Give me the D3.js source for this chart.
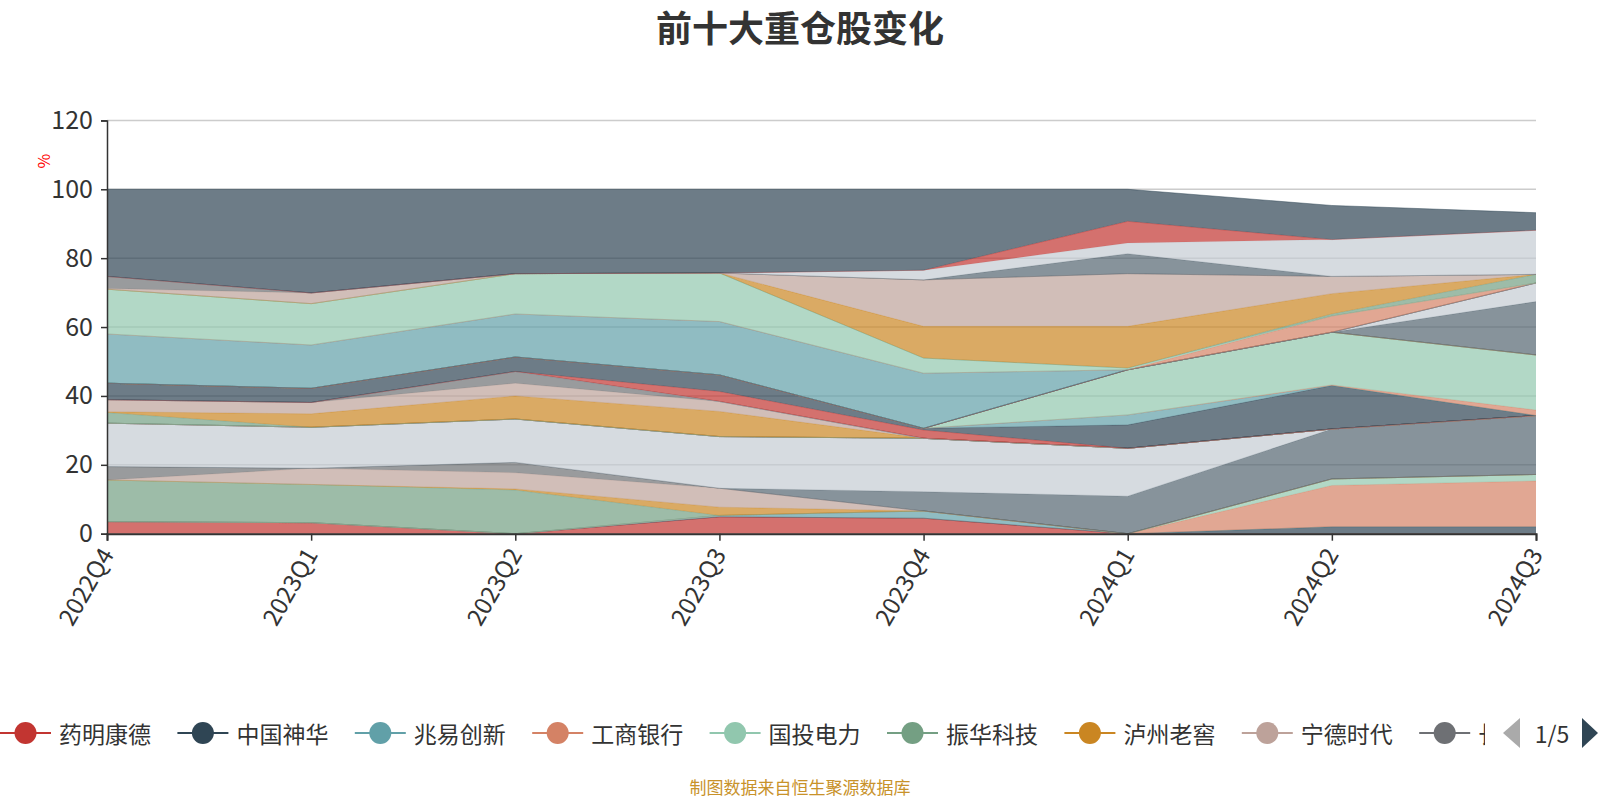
<!DOCTYPE html>
<html><head><meta charset="utf-8">
<script src="https://cdn.jsdelivr.net/npm/d3@7"></script>
<style>body{margin:0;background:#fff;}svg{display:block;font-family:"Noto Sans CJK SC","Noto Sans",sans-serif;}</style>
</head><body><svg id="c" width="1600" height="800"></svg>
<script>
const quarters = ["2022Q4","2023Q1","2023Q2","2023Q3","2023Q4","2024Q1","2024Q2","2024Q3"];
const yTicks = [0,20,40,60,80,100,120];
const palette = ['#c23531','#2f4554','#61a0a8','#d48265','#91c7ae','#749f83','#ca8622','#bda29a','#6e7074','#546570','#c4ccd3'];
const names = ["药明康德","中国神华","兆易创新","工商银行","国投电力","振华科技","泸州老窖","宁德时代","长江电力","紫金矿业",
"贵州茅台","招商银行","五粮液","美的集团","中国平安","迈瑞医疗","隆基绿能","山西汾酒","恒瑞医药","海天味业",
"伊利股份","格力电器","东方财富","中国海油","北方华创","中际旭创","华能水电","比亚迪","洋河股份","阳光电源",
"汇川技术","万华化学","中芯国际","爱尔眼科","陕西煤业","紫光国微","农业银行","川投能源","鼎龙股份","古井贡酒",
"亿纬锂能","立讯精密","海光信息","中国移动","片仔癀","中国石油"];
const v0  = [3.5,3.2,0,4.9,4.5,0,0,0];
const v1  = [0,0,0,0,0,0,2.0,2.0];
const v2  = [0,0,0,0.4,2.1,0,0,0];
const v3  = [0,0,0,0,0,0,12.0,13.3];
const v4  = [0,0,0,0,0,0,1.9,1.9];
const v5  = [12.1,11.1,12.7,0,0,0,0,0];
const v6  = [0,0,0.3,2.4,0,0,0,0];
const v7  = [0,4.7,4.7,5.5,0,0,0,0];
const v8  = [3.9,0,3.0,0,0,0,0,0];
const v9  = [0,0,0,0,5.6,10.9,14.5,17.1];
const v10 = [12.6,11.9,12.6,15.0,15.5,13.9,0,0];
const v11 = [0,0,0,0,0,0,0,0];
const v12 = [0,0,0,0,0,0,0,0];
const v13 = [0,0,0,0,0,0,0,0];
const v14 = [0,0,0,0,0,0,0,0];
const v15 = [0,0,0,0,0,0,0,0];
const v16 = [3.1,0,0,0,0,0,0,0];
const v17 = [0.2,3.9,6.7,7.3,0,0,0,0];
const v18 = [3.5,3.3,3.7,2.9,0,0,0,0];
const v19 = [0,0,3.4,0,0,0,0,0];
const v20 = [0,0,0,0,0,0,0,0];
const v21 = [0,0,0,0,0,0,0,0];
const v22 = [0,0,0,2.9,2.4,0,0,0];
const v23 = [4.8,4.1,4.2,4.8,0.5,6.8,12.6,0];
const v24 = [0,0,0,0,0,2.9,0,0];
const v25 = [0,0,0,0,0,0,0.2,1.6];
const v26 = [0,0,0,0,0,13.1,15.3,16.0];
const v27 = [0,0,0,0,0,0,0,0];
const v28 = [0,0,0,0,0,0,0,0];
const v29 = [0,0,0,0,0,0,0,0];
const v30 = [0,0,0,0,0,0,0,0];
const v31 = [0,0,0,0,0,0,0,15.5];
const v32 = [0,0,0,0,0,0,0,5.4];
const v33 = [0,0,0,0,0,0,0,0];
const v34 = [0,0,0,0,0,0,0,0];
const v35 = [14.3,12.6,12.5,15.5,16.0,0,0,0];
const v36 = [0,0,0,0,0,0,4.7,0];
const v37 = [13.0,12.0,11.7,14.1,4.4,0.5,0,0];
const v38 = [0,0,0,0,0,0,0.6,2.5];
const v39 = [0,0,0,0,9.2,12.1,5.9,0];
const v40 = [0.2,3.1,0,0,13.5,15.3,5.0,0];
const v41 = [3.5,0,0,0,0,0,0,0];
const v42 = [0,0,0,0,0,5.8,0,0];
const v43 = [0,0,0,0,2.8,3.1,10.7,12.8];
const v44 = [0,0,0,0,0,6.3,0,0];
const v45 = [25.3,30.1,24.5,24.3,23.5,9.3,9.9,5.1];
const seriesValues = [v0,v1,v2,v3,v4,v5,v6,v7,v8,v9,v10,v11,v12,v13,v14,v15,v16,v17,v18,v19,v20,v21,v22,v23,v24,v25,v26,v27,v28,v29,v30,v31,v32,v33,v34,v35,v36,v37,v38,v39,v40,v41,v42,v43,v44,v45];
const legendPageText = "1/5";

const svg = d3.select("#c");
const L = 107, R = 1536, T = 120.4, B = 533.7;
const x = d3.scalePoint().domain(quarters).range([L, R]).padding(0);
const y = d3.scaleLinear().domain([0,120]).range([B, T]);
const color = i => palette[i % palette.length];

// title
svg.append("text").attr("x",800).attr("y",26).attr("text-anchor","middle").attr("dominant-baseline","central")
  .attr("font-size",36).attr("font-weight","bold").attr("fill","#333").text("前十大重仓股变化");

// grid
svg.append("g").selectAll("line").data(yTicks.slice(1)).join("line")
  .attr("x1",L).attr("x2",R).attr("y1",d=>y(d)).attr("y2",d=>y(d))
  .attr("stroke","#ccc").attr("stroke-width",1.5);

// stacked areas
const rows = quarters.map((q,i)=>i);
const stack = d3.stack().keys(d3.range(seriesValues.length)).value((d,k)=>seriesValues[k][d]);
const layers = stack(rows);
const area = d3.area().x(d=>x(quarters[d.data])).y0(d=>y(d[0])).y1(d=>y(d[1]));
const line = d3.line().x(d=>x(quarters[d.data])).y(d=>y(d[1]));
const gS = svg.append("g");
layers.forEach((layer,k)=>{
  gS.append("path").attr("d",area(layer)).attr("fill",color(k)).attr("fill-opacity",0.7);
  gS.append("path").attr("d",line(layer)).attr("fill","none").attr("stroke",color(k)).attr("stroke-width",0.6).attr("stroke-opacity",0.8);
});

// y axis
const gy = svg.append("g").attr("transform",`translate(${L},0)`)
  .call(d3.axisLeft(y).tickValues(yTicks).tickSize(6).tickPadding(8));
gy.select(".domain").attr("stroke","#333").attr("stroke-width",1.5);
gy.selectAll(".tick line").attr("stroke","#333").attr("stroke-width",1.5);
gy.selectAll(".tick text").attr("font-size",25).attr("fill","#333").attr("font-family","Noto Sans CJK SC");

// x axis
const gx = svg.append("g").attr("transform",`translate(0,${B})`)
  .call(d3.axisBottom(x).tickSize(7).tickPadding(6));
gx.select(".domain").attr("stroke","#333").attr("stroke-width",2);
gx.selectAll(".tick line").attr("stroke","#333").attr("stroke-width",1.5);
gx.selectAll(".tick text").attr("font-size",24).attr("fill","#333").attr("font-family","Noto Sans CJK SC")
  .attr("text-anchor","end").attr("dominant-baseline","central").attr("dy",null)
  .attr("transform","translate(0,12) rotate(-60)").attr("y",0).attr("x",-4);

// axis name
svg.append("text").attr("transform","translate(43,161) rotate(-90)").attr("text-anchor","middle")
  .attr("dominant-baseline","central").attr("font-size",16).attr("fill","#f00").text("%");

// legend
const legY = 733, step = 177.4, clipW = 1485;
const clip = svg.append("defs").append("clipPath").attr("id","lc");
clip.append("rect").attr("x",0).attr("y",700).attr("width",clipW).attr("height",70);
const gl = svg.append("g").attr("clip-path","url(#lc)");
names.slice(0,9).forEach((n,i)=>{
  const g = gl.append("g").attr("transform",`translate(${i*step},${legY})`);
  g.append("line").attr("x1",0).attr("x2",51).attr("y1",0).attr("y2",0).attr("stroke",color(i)).attr("stroke-width",2);
  g.append("circle").attr("cx",25.5).attr("cy",0).attr("r",11).attr("fill",color(i));
  const visible = i*step + 59 + n.length*23 > clipW ? n.slice(0,1) : n;
  g.append("text").attr("x",59).attr("y",0).attr("dominant-baseline","central").attr("font-size",23).attr("fill","#333").text(visible);
});
svg.append("path").attr("d",`M1520,718 L1520,748 L1503,733 Z`).attr("fill","#aaa");
svg.append("path").attr("d",`M1582,718 L1582,748 L1598,733 Z`).attr("fill","#2f4554");
svg.append("text").attr("x",1552).attr("y",legY).attr("text-anchor","middle").attr("dominant-baseline","central")
  .attr("font-size",23).attr("fill","#333").text(legendPageText);

// source
svg.append("text").attr("x",800).attr("y",786).attr("text-anchor","middle").attr("dominant-baseline","central")
  .attr("font-size",17).attr("fill","#c8922a").text("制图数据来自恒生聚源数据库");
</script></body></html>
